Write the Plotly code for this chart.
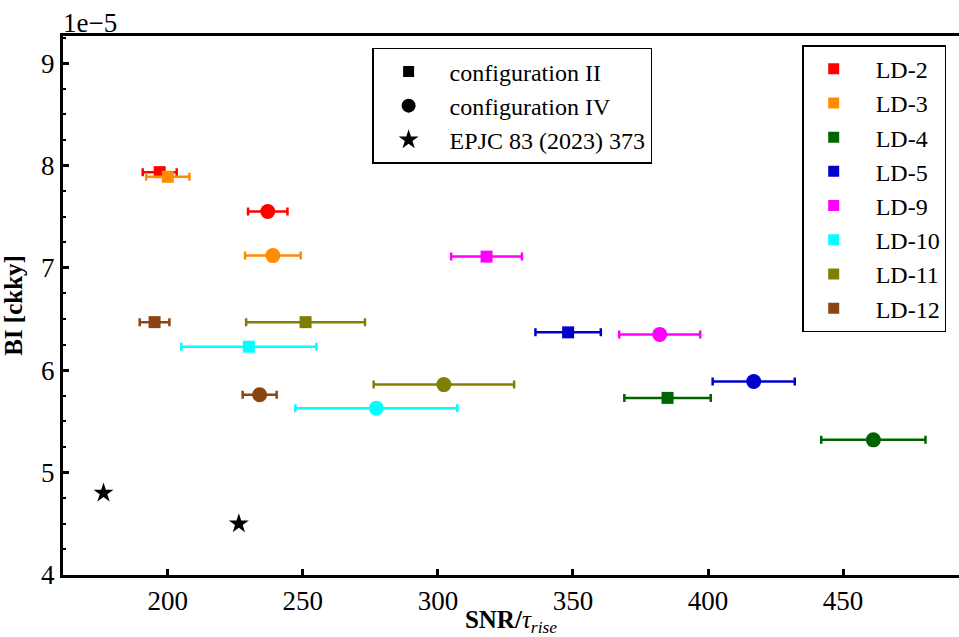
import plotly.graph_objects as go

# ---------------- data (BI in units of 1e-5 ckky) ----------------
detectors = ["LD-2", "LD-3", "LD-4", "LD-5", "LD-9", "LD-10", "LD-11", "LD-12"]
colors = ["#ff0000", "#ff8c00", "#006400", "#0000cd", "#ff00ff", "#00ffff", "#808000", "#8b4513"]

# configuration II (squares)
cfg2_snr = [197.0, 200.0, 385.0, 348.2, 318.0, 230.0, 251.0, 195.1]
cfg2_snr_err = [6.3, 8.0, 16.0, 12.1, 13.1, 25.0, 22.0, 5.5]
cfg2_bi = [7.935, 7.89, 5.73, 6.37, 7.11, 6.23, 6.47, 6.47]

# configuration IV (circles)
cfg4_snr = [237.0, 238.9, 461.2, 416.9, 382.1, 277.2, 302.2, 234.0]
cfg4_snr_err = [7.3, 10.3, 19.3, 15.2, 15.0, 30.0, 26.0, 6.3]
cfg4_bi = [7.55, 7.12, 5.32, 5.89, 6.35, 5.63, 5.86, 5.76]

# EPJC 83 (2023) 373 (stars)
epjc_snr = [176.2, 226.3]
epjc_bi = [4.80, 4.50]

x_ticks = [200, 250, 300, 350, 400, 450]
y_ticks = [4, 5, 6, 7, 8, 9]

FONT = "Liberation Serif, Times New Roman, serif"
NB = "\u00a0"

fig = go.Figure()

for name, col, x, xe, y in zip(detectors, colors, cfg2_snr, cfg2_snr_err, cfg2_bi):
    fig.add_trace(go.Scatter(
        x=[x], y=[y], mode="markers", showlegend=False,
        marker=dict(symbol="square", size=12, color=col),
        error_x=dict(type="data", array=[xe], color=col, thickness=2.5, width=4),
    ))
for name, col, x, xe, y in zip(detectors, colors, cfg4_snr, cfg4_snr_err, cfg4_bi):
    fig.add_trace(go.Scatter(
        x=[x], y=[y], mode="markers", showlegend=False,
        marker=dict(symbol="circle", size=15, color=col),
        error_x=dict(type="data", array=[xe], color=col, thickness=2.5, width=4),
    ))

# configuration legend
fig.add_trace(go.Scatter(x=[None], y=[None], mode="markers", name=NB + "configuration II",
                         marker=dict(symbol="square", size=11, color="black"),
                         legend="legend", legendgroup="c2"))
fig.add_trace(go.Scatter(x=[None], y=[None], mode="markers", name=NB + "configuration IV",
                         marker=dict(symbol="circle", size=14, color="black"),
                         legend="legend", legendgroup="c4"))
fig.add_trace(go.Scatter(x=epjc_snr, y=epjc_bi, mode="markers", name=NB + "EPJC 83 (2023) 373",
                         marker=dict(symbol="star", size=15, color="black"),
                         legend="legend", legendgroup="ep"))

# detector legend
for name, col in zip(detectors, colors):
    fig.add_trace(go.Scatter(x=[None], y=[None], mode="markers", name=NB + NB + name,
                             marker=dict(symbol="square", size=11, color=col),
                             legend="legend2", legendgroup=name))

tf = dict(family=FONT, size=27, color="black")
fig.update_layout(
    width=959, height=637,
    margin=dict(l=63, r=0, t=36, b=62),
    plot_bgcolor="white", paper_bgcolor="white",
    font=dict(family=FONT, size=26, color="black"),
    xaxis=dict(
        range=[161.2, 492.9], tickvals=x_ticks, ticks="inside", ticklen=6, tickwidth=2.5,
        tickcolor="black", showline=True, linecolor="black", linewidth=3, mirror=True,
        showgrid=False, zeroline=False, tickfont=tf,
        title=dict(text="<b>SNR/</b><i>τ<sub>rise</sub></i>",
                   font=dict(family=FONT, size=25, color="black"), standoff=4),
    ),
    yaxis=dict(
        range=[4.0, 9.265], tickvals=y_ticks, ticks="inside", ticklen=6, tickwidth=2.5,
        tickcolor="black", showline=True, linecolor="black", linewidth=3,
        showgrid=False, zeroline=False, tickfont=tf,
        minor=dict(ticks="inside", ticklen=3, tickwidth=2, dtick=0.25, tick0=4, tickcolor="black"),
        title=dict(text="<b>BI [ckky]</b>",
                   font=dict(family=FONT, size=25, color="black"), standoff=12),
    ),
    legend=dict(
        x=0.345, y=0.978, xanchor="left", yanchor="top",
        bordercolor="black", borderwidth=1.5, bgcolor="white",
        font=dict(family=FONT, size=24, color="black"), tracegroupgap=0, itemwidth=60,
    ),
    legend2=dict(
        x=0.825, y=0.983, xanchor="left", yanchor="top",
        bordercolor="black", borderwidth=1.5, bgcolor="white",
        font=dict(family=FONT, size=24, color="black"), tracegroupgap=0, itemwidth=50,
    ),
    annotations=[dict(text="1e\u22125", xref="paper", yref="paper", x=0, y=1,
                      xanchor="left", yanchor="bottom", showarrow=False,
                      font=dict(family=FONT, size=27, color="black"), xshift=-2, yshift=-4)],
)

fig.write_html("out.html")
